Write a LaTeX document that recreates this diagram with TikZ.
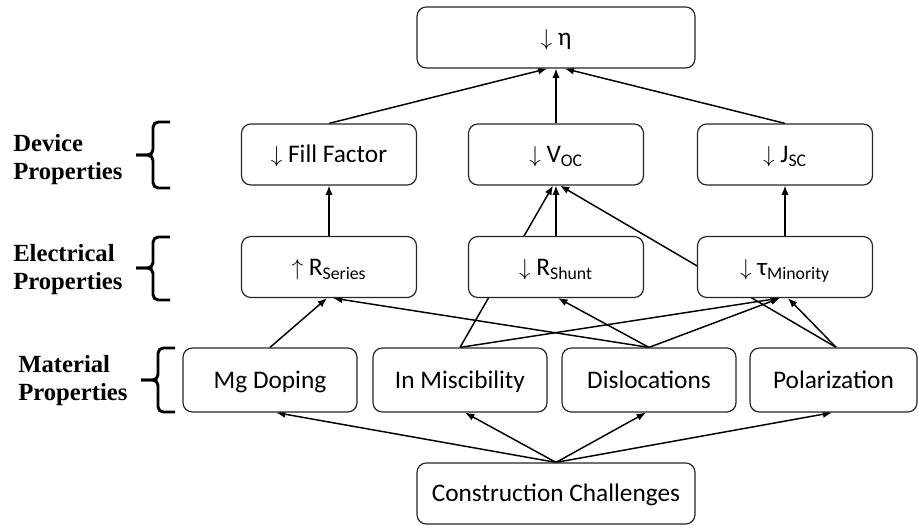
\documentclass[tikz,border=0pt]{standalone}
\usepackage{fontspec}
\setmainfont{Carlito}
\newfontfamily\labelfont{Liberation Serif}
\usepackage{tikz}
\usetikzlibrary{positioning,arrows.meta,backgrounds}

\begin{document}
\begin{tikzpicture}[
    x=0.75pt, y=-0.75pt,
    box/.style={draw=black!85, line width=0.9pt, rounded corners=7pt, fill=white, minimum height=45.75pt, inner sep=2pt, text height=15pt, text depth=3pt, font=\fontsize{19}{22}\selectfont},
    wide/.style={box, minimum width=208.5pt},
    prop/.style={box, minimum width=131.25pt},
    material/.style={box, minimum width=130.5pt, minimum height=48pt},
    link/.style={-{Latex[length=7pt,width=5.5pt]}, line width=1.1pt},
    level/.style={font=\labelfont\bfseries\fontsize{18.5}{21}\selectfont, align=left, anchor=west, inner sep=0pt},
    bracket/.style={line width=2.2pt, rounded corners=4pt}
]
\useasboundingbox (0,0) rectangle (918,525);

% Efficiency
\node[wide] (eta) at (556,37.5) {$\downarrow$ η};

% Device properties
\node[prop] (ff) at (329,154.5) {$\downarrow$ Fill Factor};
\node[prop] (voc) at (556,154.5) {$\downarrow$ V\textsubscript{OC}};
\node[prop] (jsc) at (785,154.5) {$\downarrow$ J\textsubscript{SC}};

% Electrical properties
\node[prop] (rseries) at (329,267) {$\uparrow$ R\textsubscript{Series}};
\node[prop] (rshunt) at (556,267) {$\downarrow$ R\textsubscript{Shunt}};
\node[prop] (tau) at (785,267) {$\downarrow$ τ\textsubscript{Minority}};

% Material properties
\node[material] (mg) at (270,380) {Mg Doping};
\node[material] (inmisc) at (460,380) {In Miscibility};
\node[material] (disl) at (649,380) {Dislocations};
\node[material, minimum width=125.25pt] (polar) at (833.5,380) {Polarization};

% Root
\node[wide] (cc) at (556,493.5) {Construction Challenges};

% Level labels and braces
\node[level] (devlbl) at (13,160) {Device\\Properties};
\node[level] (elelbl) at (13,270) {Electrical\\Properties};
\node[level] (matlbl) at (18,381) {Material\\Properties};
\draw[bracket] (170,122) -- (153,122) -- (153,155) -- (136,155);
\draw[bracket] (136,155) -- (153,155) -- (153,188) -- (170,188);
\draw[bracket] (170,237) -- (153,237) -- (153,268) -- (136,268);
\draw[bracket] (136,268) -- (153,268) -- (153,300) -- (170,300);
\draw[bracket] (175,348) -- (158,348) -- (158,380) -- (141,380);
\draw[bracket] (141,380) -- (158,380) -- (158,412) -- (175,412);

% Links (behind the boxes)
\begin{scope}[on background layer]
\draw[link] (ff.north) -- ([xshift=-6.5pt]eta.south);
\draw[link] (voc.north) -- (eta.south);
\draw[link] (jsc.north) -- ([xshift=6.5pt]eta.south);

\draw[link] (rseries.north) -- (ff.south);
\draw[link] (rshunt.north) -- (voc.south);
\draw[link] (tau.north) -- (jsc.south);
\draw[link] (inmisc.north) -- ([xshift=-2.25pt]voc.south);
\draw[link] ([xshift=2pt]polar.north) -- ([xshift=3pt]voc.south);

\draw[link] (mg.north) -- ([xshift=-1.5pt]rseries.south);
\draw[link] (disl.north) -- ([xshift=3pt]rseries.south);
\draw[link] (disl.north) -- ([xshift=1.5pt]rshunt.south);
\draw[link] (disl.north) -- ([xshift=-3.75pt]tau.south);
\draw[link] (inmisc.north) -- ([xshift=-3.75pt]tau.south);
\draw[link] ([xshift=2pt]polar.north) -- ([xshift=2.25pt]tau.south);

\draw[link] (cc.north) -- ([xshift=4.5pt]mg.south);
\draw[link] (cc.north) -- ([xshift=3.75pt]inmisc.south);
\draw[link] (cc.north) -- ([xshift=-2.25pt]disl.south);
\draw[link] (cc.north) -- ([xshift=-1pt]polar.south);
\end{scope}

\end{tikzpicture}
\end{document}
